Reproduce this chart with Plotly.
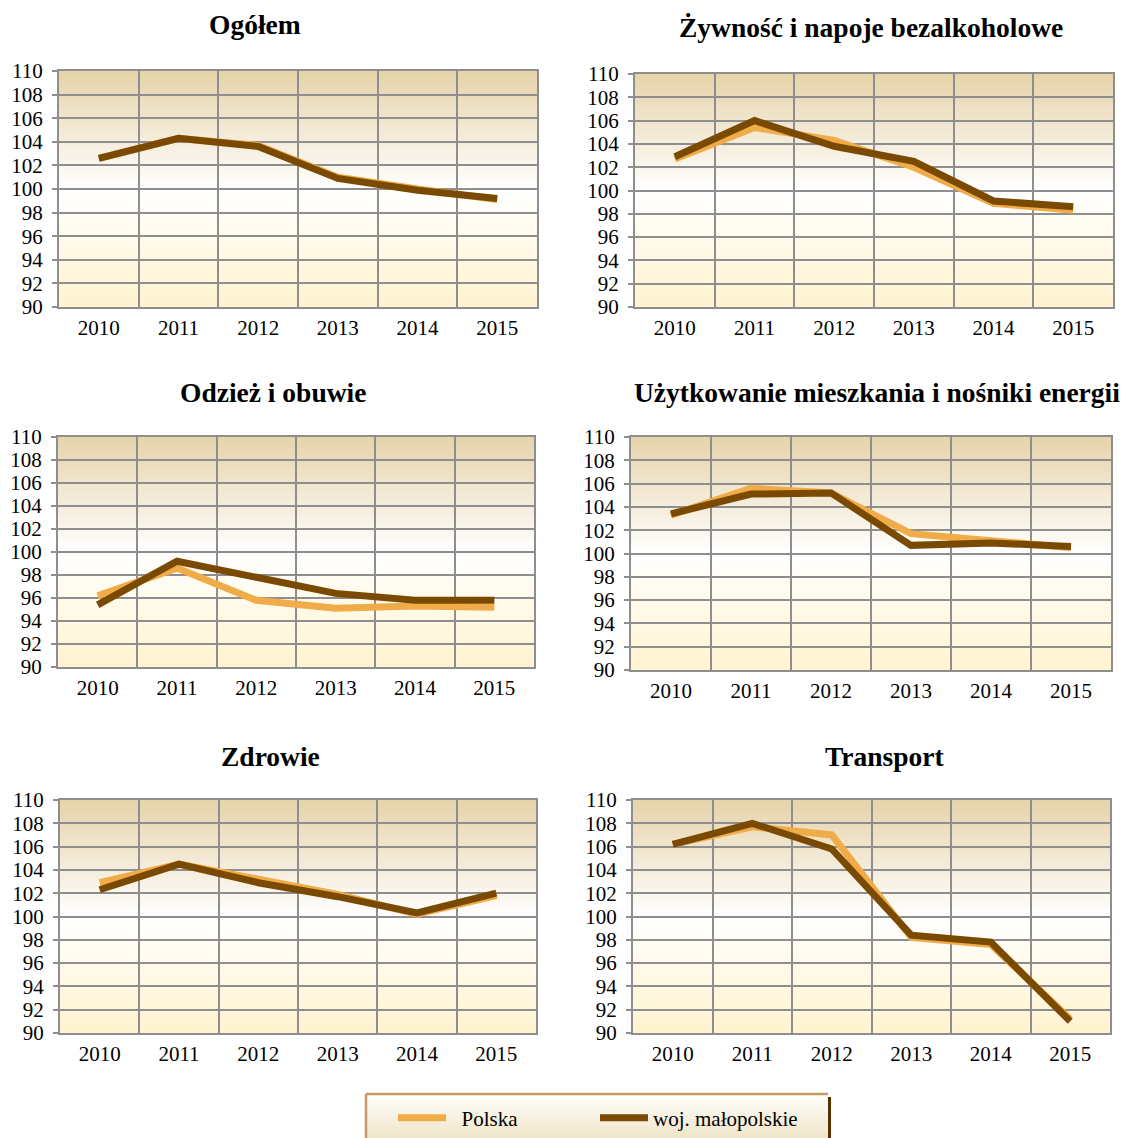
import plotly.graph_objects as go

# dane
lata = ["2010", "2011", "2012", "2013", "2014", "2015"]

tytuly = [
    "Ogółem",
    "Żywność i napoje bezalkoholowe",
    "Odzież i obuwie",
    "Użytkowanie mieszkania i nośniki energii",
    "Zdrowie",
    "Transport",
]

polska_ogolem = [102.6, 104.3, 103.7, 101.0, 100.0, 99.1]
woj_ogolem = [102.6, 104.3, 103.6, 100.9, 99.9, 99.2]

polska_zywnosc = [102.7, 105.4, 104.3, 102.0, 98.9, 98.3]
woj_zywnosc = [102.9, 106.0, 103.8, 102.5, 99.1, 98.6]

polska_odziez = [96.2, 98.6, 95.8, 95.1, 95.3, 95.2]
woj_odziez = [95.4, 99.2, 97.8, 96.4, 95.8, 95.8]

polska_mieszkanie = [103.3, 105.6, 105.2, 101.7, 101.1, 100.5]
woj_mieszkanie = [103.4, 105.1, 105.2, 100.7, 100.9, 100.6]

polska_zdrowie = [102.9, 104.5, 103.2, 101.9, 100.2, 101.8]
woj_zdrowie = [102.3, 104.5, 102.9, 101.7, 100.3, 102.0]

polska_transport = [106.2, 107.7, 107.0, 98.2, 97.6, 91.2]
woj_transport = [106.2, 108.0, 105.8, 98.4, 97.8, 91.0]

seria_polska = [polska_ogolem, polska_zywnosc, polska_odziez,
                polska_mieszkanie, polska_zdrowie, polska_transport]
seria_woj = [woj_ogolem, woj_zywnosc, woj_odziez,
             woj_mieszkanie, woj_zdrowie, woj_transport]

# wyglad (strona ma margines 8 px, wiec figura zaczyna sie w punkcie 8,8)
OX, OY = 8, 8
W, H = 1122, 1130
FONT = "Liberation Serif, Times New Roman, serif"
KOLOR_PL = "#F0AC48"
KOLOR_WOJ = "#7B4A02"
SIATKA = "#8E8E8E"


def px_x(x):
    return (x - OX) / W


def px_y(y):
    return 1 - (y - OY) / H


# obszary wykresow w pikselach strony: (lewo, gora, prawo, dol)
obszary = [
    (59, 71, 537, 307),
    (635, 74, 1113, 307),
    (58, 437, 534, 667),
    (631, 437, 1111, 670),
    (60, 800, 536, 1033),
    (633, 800, 1110, 1033),
]
# srodki tytulow w pikselach strony
pozycje_tytulow = [(255, 25), (871, 27), (273, 393), (877, 393), (270, 756), (885, 756)]


def mieszaj(c1, c2, t):
    return "rgb(%d,%d,%d)" % tuple(round(a + (b - a) * t) for a, b in zip(c1, c2))


def gradient(xref, yref, x0, x1, y0, y1, kolor_fn, n=80):
    ksztalty = []
    for i in range(n):
        t = (i + 0.5) / n
        ksztalty.append(dict(
            type="rect", xref=xref, yref=yref, layer="below",
            x0=x0, x1=x1,
            y0=y0 + (y1 - y0) * i / n,
            y1=min(y1, y0 + (y1 - y0) * (i + 1.6) / n),
            line={"width": 0}, fillcolor=kolor_fn(t),
        ))
    return ksztalty


DOL = (255, 243, 207)
SRODEK = (255, 255, 255)
GORA = (230, 211, 170)


def tlo_wykresu(t):
    if t < 0.5:
        return mieszaj(DOL, SRODEK, t / 0.5)
    return mieszaj(SRODEK, GORA, (t - 0.5) / 0.5)


fig = go.Figure()
shapes = []
annotations = []

for k in range(6):
    nr = "" if k == 0 else str(k + 1)
    xa, ya = "x" + nr, "y" + nr
    fig.add_trace(go.Scatter(
        x=lata, y=seria_polska[k], xaxis=xa, yaxis=ya, mode="lines",
        line={"color": KOLOR_PL, "width": 7}, name="\u00a0\u00a0Polska",
        showlegend=(k == 0),
    ))
    fig.add_trace(go.Scatter(
        x=lata, y=seria_woj[k], xaxis=xa, yaxis=ya, mode="lines",
        line={"color": KOLOR_WOJ, "width": 7}, name="woj. małopolskie",
        showlegend=(k == 0),
    ))

    l, g, p, d = obszary[k]
    fig.layout["xaxis" + nr] = dict(
        domain=[px_x(l), px_x(p)], anchor=ya, type="category",
        range=[-0.5, 5.5], tickson="boundaries", ticks="",
        showgrid=True, gridcolor=SIATKA, gridwidth=2,
        showline=True, linecolor=SIATKA, linewidth=2, mirror=True,
        tickfont={"family": FONT, "size": 21, "color": "black"},
        ticklabelstandoff=1, fixedrange=True,
    )
    fig.layout["yaxis" + nr] = dict(
        domain=[px_y(d), px_y(g)], anchor=xa,
        range=[90, 110], dtick=2, tick0=90,
        showgrid=True, gridcolor=SIATKA, gridwidth=2,
        showline=True, linecolor=SIATKA, linewidth=2, mirror=True,
        ticks="outside", ticklen=5, tickcolor=SIATKA, tickwidth=2,
        tickfont={"family": FONT, "size": 21, "color": "black"},
        ticklabelstandoff=5, zeroline=False, fixedrange=True,
    )
    shapes += gradient(xa + " domain", ya + " domain", 0, 1, 0, 1, tlo_wykresu)

    tx, ty = pozycje_tytulow[k]
    annotations.append(dict(
        text="<b>%s</b>" % tytuly[k], x=px_x(tx), y=px_y(ty),
        xref="paper", yref="paper", xanchor="center", yanchor="middle",
        showarrow=False, font={"family": FONT, "size": 27.5, "color": "black"},
    ))

# ramka legendy
lx0, ly0, lx1 = px_x(366), px_y(1094), px_x(828)
shapes += gradient("paper", "paper", lx0, lx1, -0.01, ly0,
                   lambda t: mieszaj((236, 222, 188), (255, 255, 253), t), n=30)
shapes.append(dict(type="line", xref="paper", yref="paper", layer="below",
                   x0=lx0, x1=lx1, y0=ly0, y1=ly0,
                   line={"color": "#C49A64", "width": 2.5}))
shapes.append(dict(type="line", xref="paper", yref="paper", layer="below",
                   x0=lx0, x1=lx0, y0=ly0, y1=-0.01,
                   line={"color": "#C49A64", "width": 2.5}))
shapes.append(dict(type="line", xref="paper", yref="paper", layer="below",
                   x0=px_x(829.5), x1=px_x(829.5), y0=px_y(1097), y1=-0.01,
                   line={"color": "#5A3000", "width": 3}))

fig.update_layout(
    width=W, height=H,
    margin={"l": 0, "r": 0, "t": 0, "b": 0, "autoexpand": False},
    paper_bgcolor="white", plot_bgcolor="rgba(0,0,0,0)",
    shapes=shapes, annotations=annotations,
    showlegend=True,
    legend=dict(
        orientation="h", xref="container", yref="container",
        x=px_x(393), xanchor="left",
        y=px_y(1118), yanchor="middle",
        bgcolor="rgba(0,0,0,0)", borderwidth=0,
        itemwidth=48, entrywidth=139, traceorder="normal",
        font={"family": FONT, "size": 21, "color": "black"},
    ),
)

fig.write_html("out.html")
